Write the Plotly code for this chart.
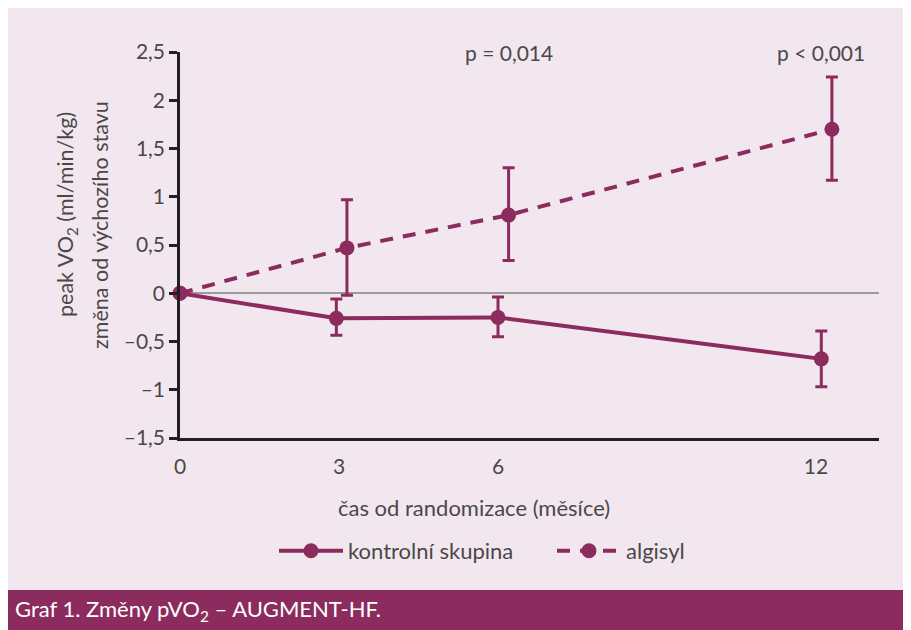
import plotly.graph_objects as go

# ---- data ----
month_ticks = [0, 3, 6, 12]
month_tick_labels = ["0", "3", "6", "12"]

control_x = [0, 2.95, 6.0, 12.1]
control_y = [0, -0.26, -0.25, -0.68]
control_err_plus = [0, 0.20, 0.21, 0.29]
control_err_minus = [0, 0.175, 0.20, 0.29]

algisyl_x = [0, 3.15, 6.2, 12.3]
algisyl_y = [0, 0.47, 0.81, 1.70]
algisyl_err_plus = [0, 0.50, 0.49, 0.54]
algisyl_err_minus = [0, 0.49, 0.47, 0.53]

y_ticks = [-1.5, -1, -0.5, 0, 0.5, 1, 1.5, 2, 2.5]
y_tick_labels = ["–1,5", "–1", "–0,5", "0", "0,5", "1", "1,5", "2", "2,5"]

p_labels = ["p = 0,014", "p < 0,001"]
p_x = [6.2, 12.1]

series_names = ["kontrolní skupina", "algisyl"]

# ---- style ----
PURPLE = "#8c2c5e"
BG = "#f2e7ee"
TXT = "#4a474a"
AX = "#231f20"
FONT = "Lato"

OFF = 8  # page body margin
W, H = 920, 640
L, R, T, B = 172, 49, 44, 210
PW, PH = W - L - R, H - T - B


def px(xw):
    return (xw - OFF - L) / PW


def py(yw):
    return (H - B - (yw - OFF)) / PH


fig = go.Figure()

fig.add_trace(go.Scatter(
    x=control_x, y=control_y, name=series_names[0],
    mode="lines+markers", cliponaxis=False,
    line=dict(color=PURPLE, width=4),
    marker=dict(color=PURPLE, size=15),
    error_y=dict(type="data", array=control_err_plus, arrayminus=control_err_minus,
                 color=PURPLE, thickness=3, width=6),
))
fig.add_trace(go.Scatter(
    x=algisyl_x, y=algisyl_y, name=series_names[1],
    mode="lines+markers", cliponaxis=False,
    line=dict(color=PURPLE, width=4, dash="13px,10px"),
    marker=dict(color=PURPLE, size=15),
    error_y=dict(type="data", array=algisyl_err_plus, arrayminus=algisyl_err_minus,
                 color=PURPLE, thickness=3, width=6),
))

for t, xv in zip(p_labels, p_x):
    fig.add_annotation(x=xv, y=2.5, xref="x", yref="y", text=t, showarrow=False,
                       font=dict(family=FONT, size=21, color=TXT),
                       xanchor="center", yanchor="middle")

# caption bar
fig.add_shape(type="rect", xref="paper", yref="paper", layer="below",
              x0=px(0), x1=px(W + 20), y0=py(H + 20), y1=py(590),
              fillcolor=PURPLE, line=dict(width=0))

fig.add_annotation(x=px(13), y=py(610), xref="paper", yref="paper",
                   text="Graf 1. Změny pVO<sub>2</sub> – AUGMENT-HF.", showarrow=False,
                   xanchor="left", yanchor="middle",
                   font=dict(family=FONT, size=22, color="white"))

# axis titles
fig.add_annotation(x=px(474), y=py(507), xref="paper", yref="paper",
                   text="čas od randomizace (měsíce)", showarrow=False,
                   xanchor="center", yanchor="middle",
                   font=dict(family=FONT, size=22, color=TXT))
fig.add_annotation(x=px(67), y=py(215), xref="paper", yref="paper",
                   text="peak VO<sub>2</sub> (ml/min/kg)", showarrow=False, textangle=-90,
                   xanchor="center", yanchor="middle",
                   font=dict(family=FONT, size=21.5, color=TXT))
fig.add_annotation(x=px(100), y=py(225), xref="paper", yref="paper",
                   text="změna od výchozího stavu", showarrow=False, textangle=-90,
                   xanchor="center", yanchor="middle",
                   font=dict(family=FONT, size=21.5, color=TXT))

fig.update_layout(
    width=W, height=H,
    margin=dict(l=L, r=R, t=T, b=B),
    paper_bgcolor=BG,
    plot_bgcolor="rgba(0,0,0,0)",
    font=dict(family=FONT, size=21, color=TXT),
    showlegend=True,
    legend=dict(orientation="h", x=px(274), y=py(551), xanchor="left", yanchor="middle",
                bgcolor="rgba(0,0,0,0)", font=dict(family=FONT, size=22, color=TXT),
                itemwidth=64, entrywidth=199, entrywidthmode="pixels"),
    xaxis=dict(range=[0, (879 - OFF - L) / 53.0], tickvals=month_ticks, ticktext=month_tick_labels,
               showgrid=False, zeroline=False, showline=True, linecolor=AX, linewidth=2.5,
               ticks="outside", ticklen=8, tickcolor="rgba(0,0,0,0)",
               tickfont=dict(family=FONT, size=21, color=TXT)),
    yaxis=dict(range=[-1.5, 2.5], tickvals=y_ticks, ticktext=y_tick_labels,
               showgrid=False, zeroline=True, zerolinecolor="#9b9b9b", zerolinewidth=2,
               showline=True, linecolor=AX, linewidth=2.5,
               ticks="outside", ticklen=8, tickwidth=2.5, tickcolor=AX,
               tickfont=dict(family=FONT, size=21, color=TXT)),
)

fig.write_html("out.html", post_script="document.body.style.overflow='hidden';")
